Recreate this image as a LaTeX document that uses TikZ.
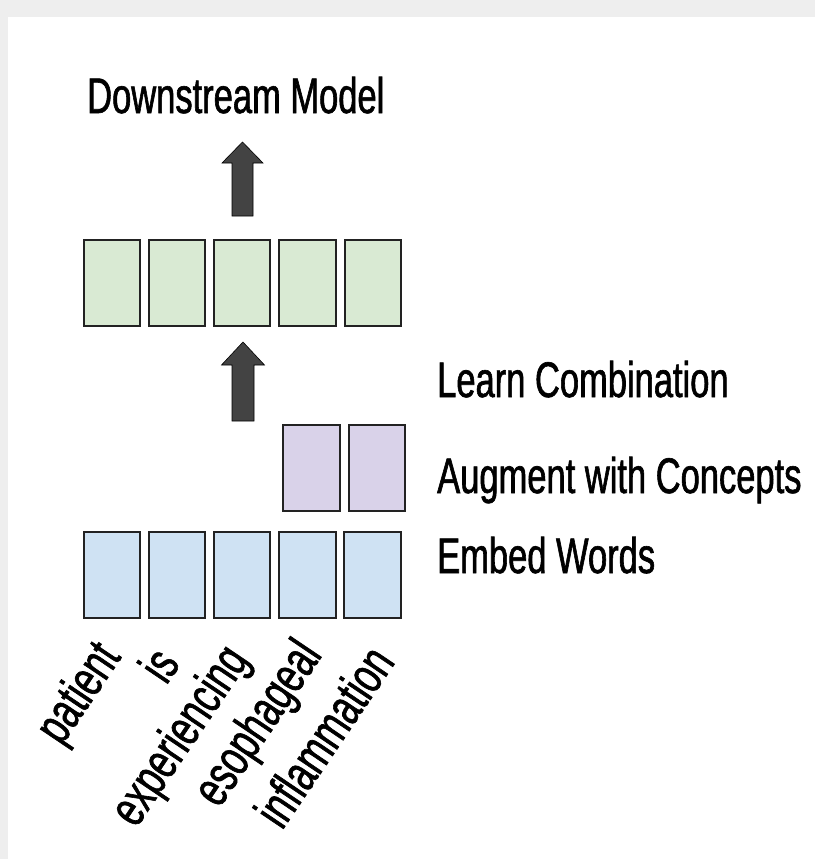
\documentclass[tikz,border=0pt]{standalone}
\usepackage{fontspec}
\setmainfont{Liberation Sans}[FakeStretch=0.69, FakeBold=1.2]
\definecolor{pagegray}{HTML}{EEEEEE}
\definecolor{greenfill}{HTML}{D9EAD3}
\definecolor{purplefill}{HTML}{D9D2E9}
\definecolor{bluefill}{HTML}{CFE2F3}
\definecolor{boxline}{HTML}{222222}
\definecolor{arrowfill}{HTML}{434343}
\begin{document}
\begin{tikzpicture}[x=1pt,y=-1pt,
  vec/.style={draw=boxline, line width=1.8pt, minimum width=56.5pt, minimum height=86.5pt, inner sep=0pt},
  green/.style={vec, fill=greenfill},
  purple/.style={vec, fill=purplefill},
  blue/.style={vec, fill=bluefill},
  label/.style={font=\fontsize{50}{54}\selectfont, inner sep=0pt, anchor=base west},
  word/.style={font=\fontsize{52}{56}\selectfont, inner sep=0pt, anchor=base east, rotate=56},
  blockarr/.style={fill=arrowfill, draw=black, line width=0.6pt, line join=miter}
]
% page background with grey frame at top and left
\useasboundingbox (0,0) rectangle (815,859);
\fill[pagegray] (0,0) rectangle (815,859);
\fill[white] (8,17) rectangle (815,859);

% output vectors
\foreach \i/\x in {1/112,2/177,3/242,4/307.5,5/373}
  \node[green] (g\i) at (\x,283) {};
% concept vectors
\node[purple] (c1) at (311.5,468) {};
\node[purple] (c2) at (377,468) {};
% word embeddings
\foreach \i/\x in {1/112,2/177,3/242,4/307.5,5/372.5}
  \node[blue] (e\i) at (\x,575) {};

% block arrows
\coordinate (upbase) at (242.5,216);
\coordinate (lowbase) at (243,421);
\draw[blockarr, shift={(upbase)}]
  (-10.5,0) -- (-10.5,-53) -- (-20.5,-53) -- (0,-74) -- (20.5,-53) -- (10.5,-53) -- (10.5,0) -- cycle;
\draw[blockarr, shift={(lowbase)}]
  (-11,0) -- (-11,-56) -- (-21.5,-56) -- (0,-79) -- (21.5,-56) -- (11,-56) -- (11,0) -- cycle;

% labels
\node[label] (down) at (87,113) {Downstream Model};
\node[label] (learn) at (437,397) {Learn Combination};
\node[label] (aug) at (437,493) {Augment with Concepts};
\node[label] (embed) at (437,573) {Embed Words};

% input words
\node[word] (w1) at (122,657) {patient};
\node[word] (w2) at (181,664) {is};
\node[word] (w3) at (250,660) {experiencing};
\node[word] (w4) at (323,655) {esophageal};
\node[word] (w5) at (396,662) {inflammation};
\end{tikzpicture}
\end{document}
